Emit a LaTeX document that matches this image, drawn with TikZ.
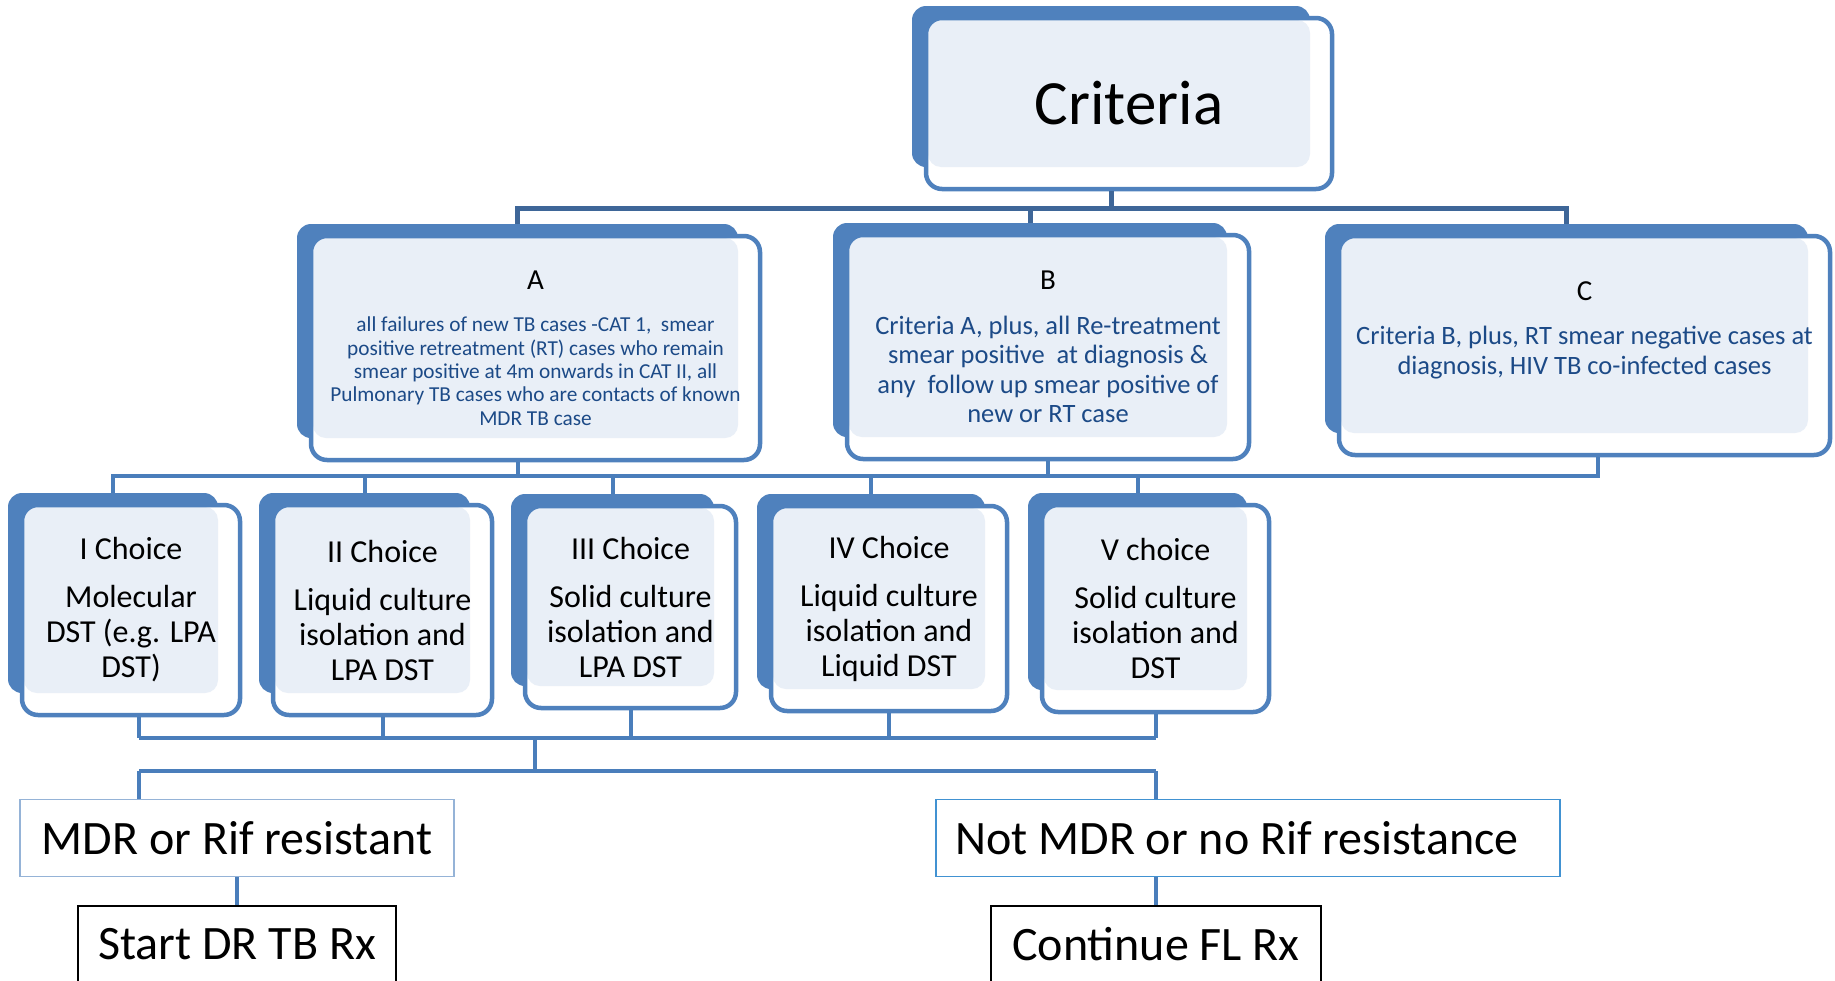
\documentclass[tikz,border=0pt]{standalone}
\usepackage{fontspec}
\setmainfont{Carlito}
\usetikzlibrary{positioning}
\definecolor{cardblue}{RGB}{79,129,189}
\definecolor{cardfill}{RGB}{233,239,247}
\definecolor{descblue}{RGB}{28,74,135}
\definecolor{linkblue}{RGB}{74,126,187}
\definecolor{linkdark}{RGB}{62,102,152}
\definecolor{mdrline}{RGB}{149,179,215}
\definecolor{okline}{RGB}{65,146,210}
\tikzset{
  cardback/.style={fill=cardblue,rounded corners=14pt,inner sep=0pt},
  cardfront/.style={draw=cardblue,line width=4.5pt,fill=white,rounded corners=16pt,inner sep=0pt,align=center,
    path picture={\fill[cardfill,rounded corners=13pt] ([shift={(2,2)}]path picture bounding box.north west) rectangle ([shift={(-22,-22)}]path picture bounding box.south east);}},
  crittxt/.style={font=\fontsize{63}{76}\selectfont},
  desctxt/.style 2 args={font=\fontsize{#1}{#2}\selectfont,text=descblue},
  choicetxt/.style={font=\fontsize{32}{35}\selectfont},
  resbox/.style={draw=#1,line width=1.5pt,minimum height=77pt,inner sep=0pt,font=\fontsize{48}{56}\selectfont},
  link/.style={draw=linkblue,line width=4pt},
  toplink/.style={draw=linkdark,line width=5pt}
}
\newcommand{\hdr}[1]{{\color{black}\fontsize{29}{34}\selectfont #1}}
\newcommand{\critcard}[7][]{%
  \node[cardback,minimum width={#5-#3},minimum height={#6-#4}] (#2-bk) at ({(#3+#5)/2},{(#4+#6)/2}) {};
  \node[cardfront,#1,minimum width={#5-#3+8},minimum height={#6-#4+10}] (#2) at ({(#3+#5)/2+18},{(#4+#6)/2+17}) {#7};
}

\begin{document}
\begin{tikzpicture}[x=1pt,y=-1pt]
  \useasboundingbox (0,0) rectangle (1835,980);

  \critcard[crittxt]{crit}{912}{6}{1310}{167}{Criteria}
  \critcard[desctxt={21.3}{23.4}]{A}{297}{224}{738}{438}{\hdr{A}\\[19pt]all failures of new TB cases -CAT 1,\ \ smear\\positive retreatment (RT) cases who remain\\smear positive at 4m onwards in CAT II, all\\Pulmonary TB cases who are contacts of known\\MDR TB case}
  \critcard[desctxt={26.5}{29.5}]{B}{833}{223}{1227}{437}{\hdr{B}\\[15pt]Criteria A, plus, all Re-treatment\\smear positive\ \ at diagnosis \&\\any\ \ follow up smear positive of\\new or RT case}
  \critcard[desctxt={26.5}{29.5},text depth=35pt]{C}{1325}{224}{1808}{433}{\hdr{C}\\[15pt]Criteria B, plus, RT smear negative cases at\\diagnosis, HIV TB co-infected cases}

  \critcard[choicetxt]{choice1}{8}{493}{218}{693}{I Choice\\[13pt]Molecular\\DST (e.g. LPA\\DST)}
  \critcard[choicetxt]{choice2}{259}{493}{470}{693}{II Choice\\[13pt]Liquid culture\\isolation and\\LPA DST}
  \critcard[choicetxt]{choice3}{511}{494}{714}{686}{III Choice\\[13pt]Solid culture\\isolation and\\LPA DST}
  \critcard[choicetxt]{choice4}{757}{494}{985}{689}{IV Choice\\[13pt]Liquid culture\\isolation and\\Liquid DST}
  \critcard[choicetxt]{choice5}{1028}{493}{1247}{690}{V choice\\[13pt]Solid culture\\isolation and\\DST}

  \node[resbox=mdrline,minimum width=434pt] (mdr) at (237,838) {MDR or Rif resistant};
  \node[resbox=okline,minimum width=624pt] (notmdr) at (1248,838) {Not MDR or no Rif resistance\kern22pt};
  \node[resbox=black,minimum width=318pt,below=28pt of mdr] (start) {Start DR TB Rx};
  \node[resbox=black,minimum width=330pt,below=28pt of notmdr,xshift=-92pt] (cont) {Continue FL Rx};

  \coordinate (bus1) at (0,208);
  \coordinate (bus2) at (0,476);
  \coordinate (bus3) at (0,738);
  \coordinate (bus4) at (0,771);
  \coordinate (join) at (535,738);
  \coordinate (out1) at ([xshift=8pt]choice1.south);

  \draw[toplink] (crit-bk.south |- crit.south) -- (crit-bk.south |- bus1);
  \draw[toplink] (A-bk.north) -- (A-bk.north |- bus1) -- (C-bk.north |- bus1) -- (C-bk.north);
  \draw[toplink] (B-bk.north) -- (B-bk.north |- bus1);

  \draw[link] (A-bk.south |- A.south) -- (A-bk.south |- bus2);
  \draw[link] (B.south) -- (B.south |- bus2);
  \draw[link] ([xshift=13pt]C.south) -- ([xshift=13pt]C.south |- bus2) -- (choice1-bk.north |- bus2) -- (choice1-bk.north);
  \foreach \i in {2,...,5}
    \draw[link] (choice\i-bk.north |- bus2) -- (choice\i-bk.north);

  \draw[link] (out1) -- (out1 |- bus3);
  \foreach \i in {2,...,5}
    \draw[link] (choice\i.south) -- (choice\i.south |- bus3);
  \draw[link] (out1 |- bus3) -- (choice5.south |- bus3);
  \draw[link] (join) -- (join |- bus4);
  \draw[link] (out1 |- bus4) -- (choice5.south |- bus4);
  \draw[link] (out1 |- bus4) -- (out1 |- mdr.north);
  \draw[link] (choice5.south |- bus4) -- (choice5.south |- notmdr.north);

  \draw[link] (start.north |- mdr.south) -- (start.north);
  \draw[link] (cont.north |- notmdr.south) -- (cont.north);
\end{tikzpicture}
\end{document}
